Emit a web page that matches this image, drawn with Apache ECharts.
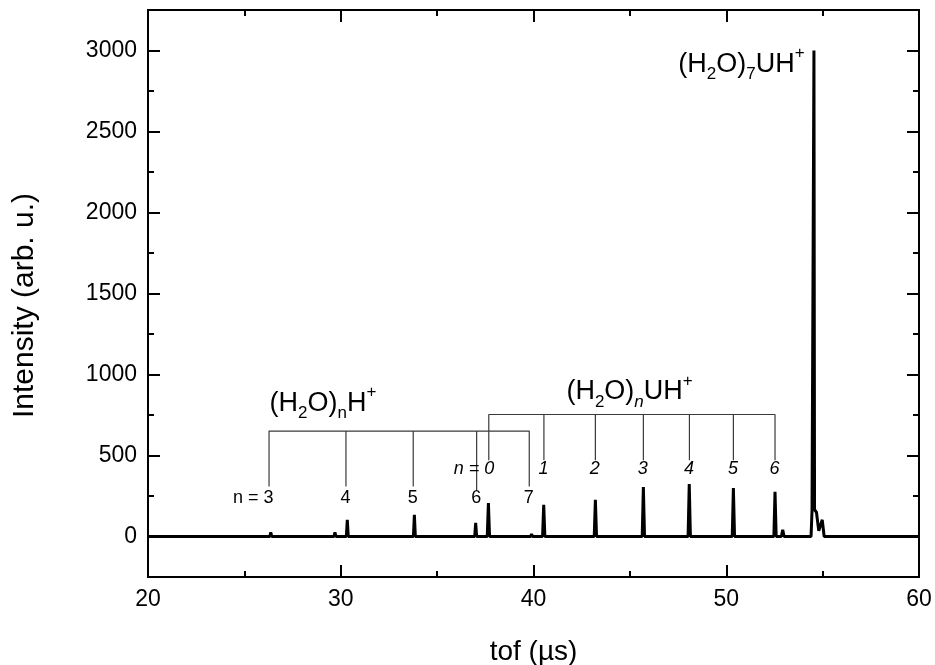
<!DOCTYPE html>
<html>
<head>
<meta charset="utf-8">
<script src="https://cdn.jsdelivr.net/npm/echarts@6.0.0/dist/echarts.min.js"></script>
<style>
html,body{margin:0;padding:0;background:#fff;}
#chart{width:935px;height:665px;}
</style>
</head>
<body>
<div id="chart"></div>
<script>
// ---- data ----
// time-of-flight spectrum: [tof (µs), intensity (arb. u.)]
const spectrum = [
  [20,0],
  [26.32,0],[26.37,25],[26.42,0],
  [29.65,0],[29.70,25],[29.75,0],
  [30.29,0],[30.34,103],[30.39,0],
  [33.77,0],[33.82,134],[33.87,0],
  [34.72,0],[34.77,10],[34.82,0],
  [36.95,0],[37.00,85],[37.05,0],
  [37.60,0],[37.66,206],[37.72,0],
  [39.85,0],[39.90,15],[39.95,0],
  [40.47,0],[40.53,195],[40.59,0],
  [43.15,0],[43.21,227],[43.27,0],
  [45.64,0],[45.70,305],[45.76,0],
  [48.02,0],[48.08,324],[48.14,0],
  [50.31,0],[50.37,299],[50.43,0],
  [52.47,0],[52.53,276],[52.59,0],
  [52.86,0],[52.93,41],[53.00,0],
  [54.40,0],[54.45,160],[54.52,165],[54.55,3000],[54.58,165],[54.68,150],[54.80,35],[54.98,103],[55.08,0],
  [60,0]
];

// (H2O)nH+ assignment bracket
const hTof    = [26.28, 30.27, 33.76, 37.05, 39.78];
const hBottom = [309, 309, 309, 284, 309];
const hTop    = 651;
const hLabels = ['n = 3', '4', '5', '6', '7'];
const hLabelY = 236;

// (H2O)nUH+ assignment bracket
const uTof    = [37.68, 40.54, 43.21, 45.70, 48.09, 50.37, 52.53];
const uBottom = [470, 470, 470, 470, 470, 470, 470];
const uTop    = 753;
const uLabels = ['n = 0', '1', '2', '3', '4', '5', '6'];
const uLabelY = 412;

// group titles: [tof, intensity]
const titleH  = [29.10, 820];
const titleU  = [45.01, 892];
const titleU7 = [54.09, 2912];

const xTicks = [20, 30, 40, 50, 60];
const yTicks = [0, 500, 1000, 1500, 2000, 2500, 3000];

// ---- helpers ----
function bracketPath(xs, bottoms, top) {
  const pts = [];
  xs.forEach((x, i) => {
    if (i > 0) pts.push([x, top]);
    pts.push([x, bottoms[i]]);
    pts.push([x, top]);
  });
  return pts;
}

const FONT = 'Liberation Sans, Arial, Helvetica, sans-serif';
const BLACK = '#000';

const richBase = {
  b: {fontSize: 27, fontFamily: FONT, color: BLACK, lineHeight: 38, verticalAlign: 'middle'},
  s: {fontSize: 17, fontFamily: FONT, color: BLACK, lineHeight: 17, verticalAlign: 'bottom'},
  si: {fontSize: 17, fontFamily: FONT, color: BLACK, lineHeight: 17, verticalAlign: 'bottom', fontStyle: 'italic'},
  p: {fontSize: 17, fontFamily: FONT, color: BLACK, lineHeight: 17, verticalAlign: 'top'}
};

const hLabelData = hTof.map((x, i) => ({
  value: [x, hLabelY], name: hLabels[i],
  label: {align: i === 0 ? 'right' : 'center', offset: [i === 0 ? 5 : 0, 0]}
}));
const uLabelData = uTof.map((x, i) => ({
  value: [x, uLabelY], name: uLabels[i],
  label: {align: i === 0 ? 'right' : 'center', offset: [i === 0 ? 6 : 0, 0]}
}));
const titleData = [
  {value: titleH, name: '{b|(H}{s|2}{b|O)}{s|n}{b|H}{p|+}', label: {align: 'center'}},
  {value: titleU, name: '{b|(H}{s|2}{b|O)}{si|n}{b|UH}{p|+}', label: {align: 'center'}},
  {value: titleU7, name: '{b|(H}{s|2}{b|O)}{s|7}{b|UH}{p|+}', label: {align: 'right'}}
];

const axisLineStyle = {show: true, onZero: false, lineStyle: {color: BLACK, width: 2}};
const plain = v => String(v);

function xAxisCfg(pos, showLabel) {
  return {
    type: 'value', position: pos, min: 20, max: 60, interval: 10,
    axisLine: axisLineStyle,
    axisTick: {show: true, inside: true, length: 12, lineStyle: {color: BLACK, width: 2}},
    minorTick: {show: true, splitNumber: 2, length: 6, lineStyle: {color: BLACK, width: 2}},
    axisLabel: {show: showLabel, fontSize: 23, fontFamily: FONT, color: BLACK, margin: 11,
      formatter: plain},
    splitLine: {show: false}, minorSplitLine: {show: false}
  };
}
function yMinorCfg(pos) {
  return {
    type: 'value', position: pos, min: -250, max: 3250, interval: 250,
    axisLine: axisLineStyle,
    axisTick: {show: true, inside: true, length: 6, lineStyle: {color: BLACK, width: 2}},
    axisLabel: {show: false},
    splitLine: {show: false}
  };
}
function yMajorCfg(pos, showLabel) {
  return {
    type: 'value', position: pos, min: -250, max: 3250,
    axisLine: axisLineStyle,
    axisTick: {show: true, inside: true, length: 12, lineStyle: {color: BLACK, width: 2}, customValues: yTicks},
    axisLabel: {show: showLabel, fontSize: 23, fontFamily: FONT, color: BLACK, margin: 11,
      customValues: yTicks, formatter: plain},
    splitLine: {show: false}
  };
}

const xA = xAxisCfg('bottom', true);
xA.name = 'tof (µs)';
xA.nameLocation = 'middle';
xA.nameGap = 61;
xA.nameTextStyle = {fontSize: 28, fontFamily: FONT, color: BLACK};

const yA = yMajorCfg('left', true);
yA.name = 'Intensity (arb. u.)';
yA.nameLocation = 'middle';
yA.nameGap = 108;
yA.nameTextStyle = {fontSize: 30, fontFamily: FONT, color: BLACK, padding: [0, 24, 0, 0]};

const labelSeries = (data, extra) => ({
  type: 'scatter', data, xAxisIndex: 0, yAxisIndex: 0,
  symbolSize: 1, itemStyle: {color: 'rgba(0,0,0,0)', opacity: 1}, silent: true, z: 5,
  label: Object.assign({show: true, position: [0, 0], verticalAlign: 'middle', formatter: p => p.name,
    fontFamily: FONT, color: BLACK, opacity: 1, textBorderWidth: 0}, extra)
});

const option = {
  animation: false,
  backgroundColor: '#fff',
  grid: {left: 148, right: 16, top: 10, bottom: 88, containLabel: false, outerBoundsMode: 'none'},
  xAxis: [xA, xAxisCfg('top', false)],
  yAxis: [yMinorCfg('left'), yA, yMinorCfg('right'), yMajorCfg('right', false)],
  series: [
    {
      type: 'line', data: spectrum, xAxisIndex: 0, yAxisIndex: 0,
      showSymbol: false, symbol: 'none', silent: true, z: 3, sampling: null,
      lineStyle: {color: BLACK, width: 3, join: 'bevel'}
    },
    {
      type: 'line', data: bracketPath(hTof, hBottom, hTop), xAxisIndex: 0, yAxisIndex: 0,
      symbol: 'none', silent: true, z: 2,
      lineStyle: {color: '#3a3a3a', width: 1.2}
    },
    {
      type: 'line', data: bracketPath(uTof, uBottom, uTop), xAxisIndex: 0, yAxisIndex: 0,
      symbol: 'none', silent: true, z: 2,
      lineStyle: {color: '#3a3a3a', width: 1.2}
    },
    labelSeries(hLabelData, {fontSize: 18}),
    labelSeries(uLabelData, {fontSize: 18, fontStyle: 'italic'}),
    labelSeries(titleData, {rich: richBase})
  ]
};

const chart = echarts.init(document.getElementById('chart'), null, {renderer: 'canvas'});
chart.setOption(option);
</script>
</body>
</html>
